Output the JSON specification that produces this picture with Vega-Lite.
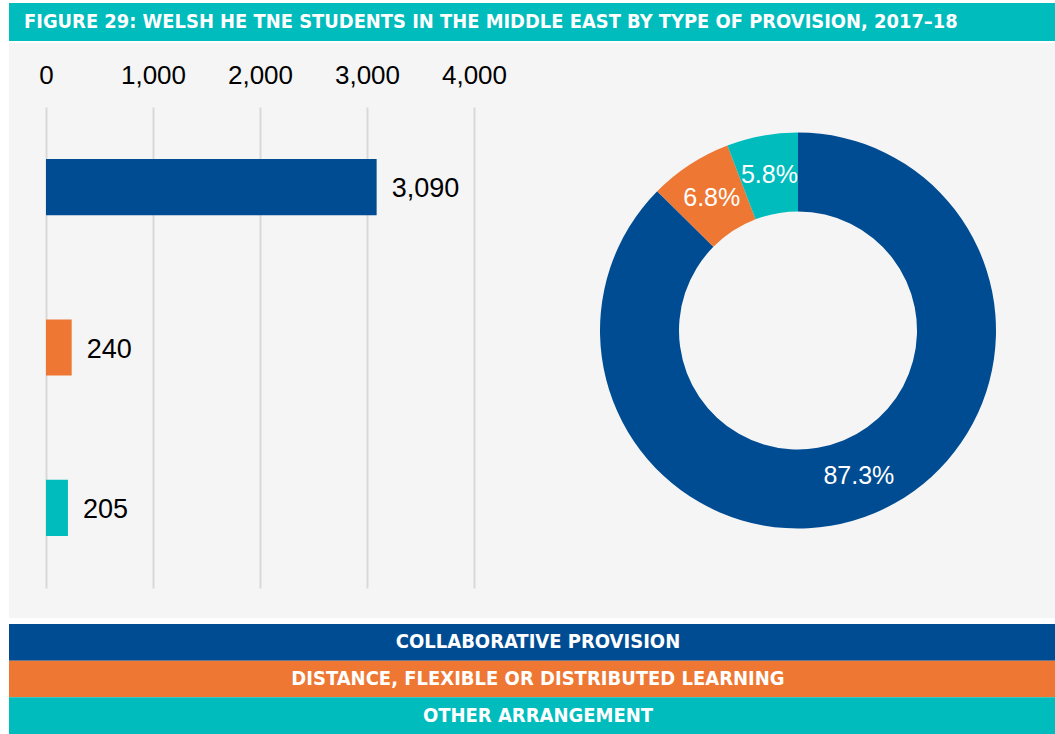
{
  "$schema": "https://vega.github.io/schema/vega-lite/v6.json",
  "background": "white",
  "padding": {"left": 9, "top": 3, "right": 0, "bottom": 0},
  "config": {"view": {"stroke": null}, "font": "Liberation Sans"},
  "datasets": {
    "prov": [
      {"type": "Collaborative provision", "label": "COLLABORATIVE PROVISION", "students": 3090, "pct": "87.3%", "ord": 1},
      {"type": "Distance, flexible or distributed learning", "label": "DISTANCE, FLEXIBLE OR DISTRIBUTED LEARNING", "students": 240, "pct": "6.8%", "ord": 2},
      {"type": "Other arrangement", "label": "OTHER ARRANGEMENT", "students": 205, "pct": "5.8%", "ord": 3}
    ],
    "head": [
      {"title": "FIGURE 29: WELSH HE TNE STUDENTS IN THE MIDDLE EAST BY TYPE OF PROVISION, 2017–18", "pos": 0}
    ]
  },
  "spacing": 6,
  "vconcat": [
    {
      "spacing": 2,
      "vconcat": [
        {
          "data": {"name": "head"},
          "width": 1046,
          "height": 38,
          "view": {"fill": "#00bcbd", "stroke": null},
          "mark": {"type": "text", "align": "left", "baseline": "middle", "dx": 15, "font": "DejaVu Sans Condensed, DejaVu Sans, sans-serif", "fontWeight": "bold", "fontSize": 19.9, "color": "white"},
          "encoding": {
            "x": {"field": "pos", "type": "quantitative", "scale": {"domain": [0, 1]}, "axis": null},
            "text": {"field": "title"}
          }
        },
        {
          "spacing": 0,
          "hconcat": [
            {
              "data": {"name": "prov"},
              "width": 532,
              "height": 575,
              "view": {"fill": "#f5f5f5", "stroke": null},
              "encoding": {
                "y": {"field": "type", "type": "nominal", "sort": {"field": "ord"}, "scale": {"range": [64, 545], "paddingInner": 0.65, "paddingOuter": 0.325}, "axis": null},
                "x": {"field": "students", "type": "quantitative", "scale": {"domain": [0, 4000], "range": [37, 465], "nice": false},
                  "axis": {"orient": "top", "values": [0, 1000, 2000, 3000, 4000], "format": ",.0f", "title": null, "domain": false, "ticks": false, "tickSize": 0, "labelPadding": 0, "offset": -40, "labelBaseline": "alphabetic", "labelFlush": false, "labelFontSize": 26, "labelColor": "#000000", "labelFont": "Liberation Sans", "grid": true, "gridColor": "#d9d9d9", "gridWidth": 2}}
              },
              "layer": [
                {
                  "mark": {"type": "bar"},
                  "encoding": {
                    "color": {"field": "type", "type": "nominal", "scale": {"domain": ["Collaborative provision", "Distance, flexible or distributed learning", "Other arrangement"], "range": ["#004c93", "#ee7733", "#00bcbd"]}, "legend": null}
                  }
                },
                {
                  "mark": {"type": "text", "align": "left", "baseline": "middle", "dx": 15, "dy": 2, "fontSize": 27, "color": "#000000"},
                  "encoding": {"text": {"field": "students", "format": ","}}
                }
              ]
            },
            {
              "data": {"name": "prov"},
              "width": 514,
              "height": 575,
              "view": {"fill": "#f5f5f5", "stroke": null},
              "encoding": {
                "theta": {"field": "students", "type": "quantitative", "stack": true},
                "order": {"field": "ord", "type": "quantitative"}
              },
              "layer": [
                {
                  "mark": {"type": "arc", "outerRadius": 198, "innerRadius": 119},
                  "encoding": {
                    "color": {"field": "type", "type": "nominal", "scale": {"domain": ["Collaborative provision", "Distance, flexible or distributed learning", "Other arrangement"], "range": ["#004c93", "#ee7733", "#00bcbd"]}, "legend": null}
                  }
                },
                {
                  "mark": {"type": "text", "radius": 158, "fontSize": 25, "color": "white"},
                  "encoding": {"text": {"field": "pct"}}
                }
              ]
            }
          ]
        }
      ]
    },
    {
      "data": {"name": "prov"},
      "width": 1046,
      "height": 110,
      "encoding": {
        "y": {"field": "type", "type": "nominal", "sort": {"field": "ord"}, "scale": {"paddingInner": 0, "paddingOuter": 0}, "axis": null}
      },
      "layer": [
        {
          "mark": {"type": "rect"},
          "encoding": {
            "color": {"field": "type", "type": "nominal", "scale": {"domain": ["Collaborative provision", "Distance, flexible or distributed learning", "Other arrangement"], "range": ["#004c93", "#ee7733", "#00bcbd"]}, "legend": null}
          }
        },
        {
          "mark": {"type": "text", "baseline": "middle", "dx": 6, "font": "DejaVu Sans Condensed, DejaVu Sans, sans-serif", "fontWeight": "bold", "fontSize": 20, "color": "white"},
          "encoding": {"text": {"field": "label"}}
        }
      ]
    }
  ]
}
